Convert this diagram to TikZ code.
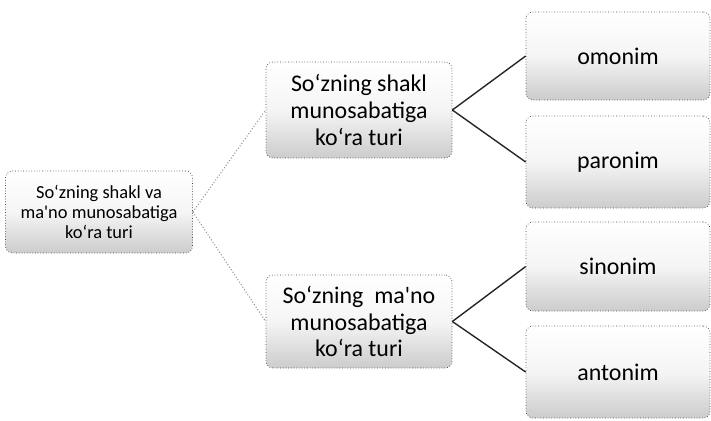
\documentclass[tikz,border=0pt]{standalone}
\usepackage{fontspec}
\newfontfamily\calfont{Carlito}
\begin{document}
\begin{tikzpicture}[x=1bp,y=-1bp,
  box/.style={draw=black!75, dotted, line width=0.7bp, rounded corners=7bp,
    top color=white, bottom color=black!20, middle color=black!4,
    align=center, inner sep=0pt, font=\calfont},
  big/.style={font=\calfont\fontsize{24}{27}\selectfont},
  lnk/.style={draw=black!45, dotted, line width=1bp},
  blk/.style={draw=black!85, line width=1.4bp}]
\useasboundingbox (0,0) rectangle (711,420);
\node[box, minimum width=187bp, minimum height=82bp, font=\calfont\fontsize{18.5}{20}\selectfont] (l) at (99,212)
  {So‘zning shakl va\\ma'no munosabatiga\\ko‘ra turi};
\node[box, big, minimum width=186bp, minimum height=96bp] (mt) at (359,110)
  {So‘zning shakl\\munosabatiga\\ko‘ra turi};
\node[box, big, minimum width=186bp, minimum height=93bp] (mb) at (359,321.5)
  {So‘zning\ \ ma'no\\munosabatiga\\ko‘ra turi};
\node[box, big, minimum width=184bp, minimum height=88bp] (r1) at (618,56) {omonim};
\node[box, big, minimum width=184bp, minimum height=92bp] (r2) at (618,162) {paronim};
\node[box, big, minimum width=184bp, minimum height=89bp] (r3) at (618,266.5) {sinonim};
\node[box, big, minimum width=184bp, minimum height=92bp] (r4) at (618,372) {antonim};
\draw[lnk] (l.east) -- (mt.west);
\draw[lnk] (l.east) -- (mb.west);
\draw[blk] (mt.east) -- (r1.west);
\draw[blk] (mt.east) -- (r2.west);
\draw[blk] (mb.east) -- (r3.west);
\draw[blk] (mb.east) -- (r4.west);
\end{tikzpicture}
\end{document}
